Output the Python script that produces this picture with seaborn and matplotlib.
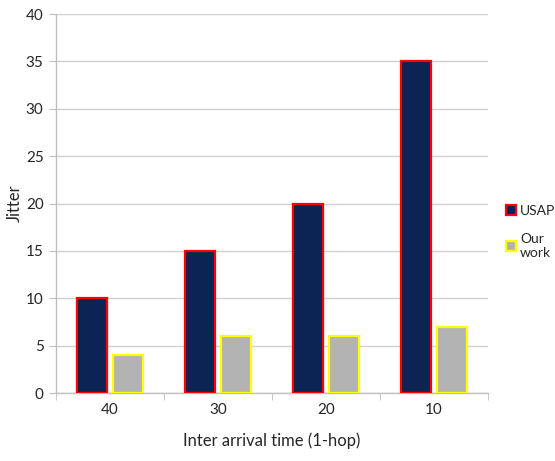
import matplotlib
matplotlib.use("Agg")
import matplotlib.pyplot as plt
import matplotlib.patches as mpatches
import seaborn as sns
import pandas as pd

categories = ["40", "30", "20", "10"]
usap = [10, 15, 20, 35]
our_work = [4, 6, 6, 7]
series_names = ["USAP", "Our\nwork"]

df = pd.DataFrame({
    "cat": categories * 2,
    "val": usap + our_work,
    "series": [series_names[0]] * 4 + [series_names[1]] * 4,
})

sns.set_style("white")
plt.rcParams["font.family"] = ["Lato", "DejaVu Sans"]

fig = plt.figure(figsize=(5.55, 4.61), dpi=100)
ax = fig.add_axes([0.101, 0.1475, 0.778, 0.822])

fills = ["#002060", "#B3B3B3"]
edges = ["#FF0000", "#FFFF00"]

sns.barplot(data=df, x="cat", y="val", hue="series", order=categories,
            hue_order=series_names, palette=fills, width=0.667, gap=0.167,
            ax=ax, legend=False, zorder=3)

for i, cont in enumerate(ax.containers):
    for p in cont:
        p.set_edgecolor(edges[i])
        p.set_linewidth(1.6)

ax.set_ylim(0, 40)
ax.set_xlim(-0.5, 3.5)
ax.set_yticks(range(0, 41, 5))
ax.yaxis.grid(True, color="#D0D0D0", linewidth=1, zorder=0)
ax.set_axisbelow(True)
for s in ["top", "right"]:
    ax.spines[s].set_visible(False)
for s in ["left", "bottom"]:
    ax.spines[s].set_color("#BFBFBF")
    ax.spines[s].set_linewidth(1)

ax.tick_params(axis="y", which="major", length=5, color="#BFBFBF", labelsize=11, pad=4, left=True)
ax.tick_params(axis="x", which="major", length=0, labelsize=11, pad=7)
ax.set_xticks([-0.5, 0.5, 1.5, 2.5, 3.5], minor=True)
ax.tick_params(axis="x", which="minor", length=5, color="#BFBFBF", bottom=True)

ax.set_xlabel("Inter arrival time (1-hop)", fontsize=12, labelpad=11)
ax.set_ylabel("Jitter", fontsize=12, labelpad=2)

handles = [mpatches.Patch(facecolor=fills[i], edgecolor=edges[i], linewidth=1.6, label=series_names[i])
           for i in range(2)]
fig.legend(handles=handles, loc="center left", bbox_to_anchor=(0.911, 0.497), frameon=False,
           fontsize=10, handlelength=0.75, handleheight=0.75, handletextpad=0.3, labelspacing=1.15,
           borderpad=0, borderaxespad=0)

fig.savefig("out.png", dpi=100)
